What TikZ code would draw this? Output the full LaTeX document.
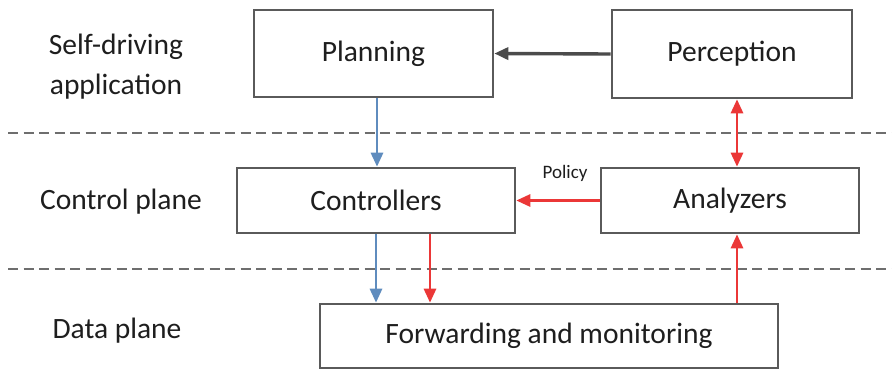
\documentclass[tikz,border=0pt]{standalone}
\usepackage{fontspec}
\setmainfont{Carlito}
\usetikzlibrary{arrows.meta}
\definecolor{boxline}{RGB}{90,90,90}
\definecolor{txt}{RGB}{30,30,30}
\definecolor{flowblue}{RGB}{95,140,190}
\definecolor{flowred}{RGB}{235,55,55}
\definecolor{flowgray}{RGB}{75,75,75}
\definecolor{sepgray}{RGB}{110,110,110}
\tikzset{
  blk/.style={draw=boxline, line width=2.6pt, fill=white, text=txt, inner sep=0pt,
    font=\fontsize{29.5}{32}\selectfont},
  lbl/.style={text=txt, align=center, inner sep=0pt,
    font=\fontsize{29.5}{40}\selectfont},
  tip/.tip={Triangle[length=14pt,width=12pt]},
  arr/.style={line width=2.8pt, -tip},
  darr/.style={line width=2.8pt, tip-tip},
  sep/.style={draw=sepgray, line width=2.8pt, dash pattern=on 10pt off 5.5pt}
}
\begin{document}
\begin{tikzpicture}[x=1pt,y=-1pt]
\useasboundingbox[fill=white] (0,0) rectangle (892,373);

% layer separators
\coordinate (s1a) at (8,133);  \coordinate (s1b) at (892,133);
\coordinate (s2a) at (8,269);  \coordinate (s2b) at (892,269);
\draw[sep] (s1a) -- (s1b);
\draw[sep] (s2a) -- (s2b);

% layer labels
\node[lbl] (lapp) at (116,67) {Self-driving\\application};
\node[lbl] (lctl) at (121,202) {Control plane};
\node[lbl] (ldat) at (117,331) {Data plane};

% components
\node[blk, minimum width=239pt, minimum height=87pt] (plan) at (373.5,53.5) {Planning};
\node[blk, minimum width=240pt, minimum height=88pt] (perc) at (732,54) {Perception};
\node[blk, minimum width=278pt, minimum height=65pt] (ctrl) at (376,200.5) {Controllers};
\node[blk, minimum width=258pt, minimum height=65pt] (anal) at (730,200.5) {Analyzers};
\node[blk, minimum width=458pt, minimum height=64pt] (fwd) at (549,336) {Forwarding and monitoring};

% flows
\draw[arr, flowgray, line width=3.4pt] (perc.west) -- (plan.east);
\draw[arr, flowblue] (plan.south -| 377,0) -- (ctrl.north -| 377,0);
\draw[darr, flowred] (perc.south -| 737,0) -- (anal.north -| 737,0);
\draw[arr, flowred] (anal.west) -- (ctrl.east);
\node[text=txt, font=\fontsize{19}{20}\selectfont, inner sep=0pt] (pol) at (565,173) {Policy};
\draw[arr, flowblue] (ctrl.south -| 376,0) -- (fwd.north -| 376,0);
\draw[arr, flowred] (ctrl.south -| 430,0) -- (fwd.north -| 430,0);
\draw[arr, flowred] (fwd.north -| 737,0) -- (anal.south -| 737,0);
\end{tikzpicture}
\end{document}
